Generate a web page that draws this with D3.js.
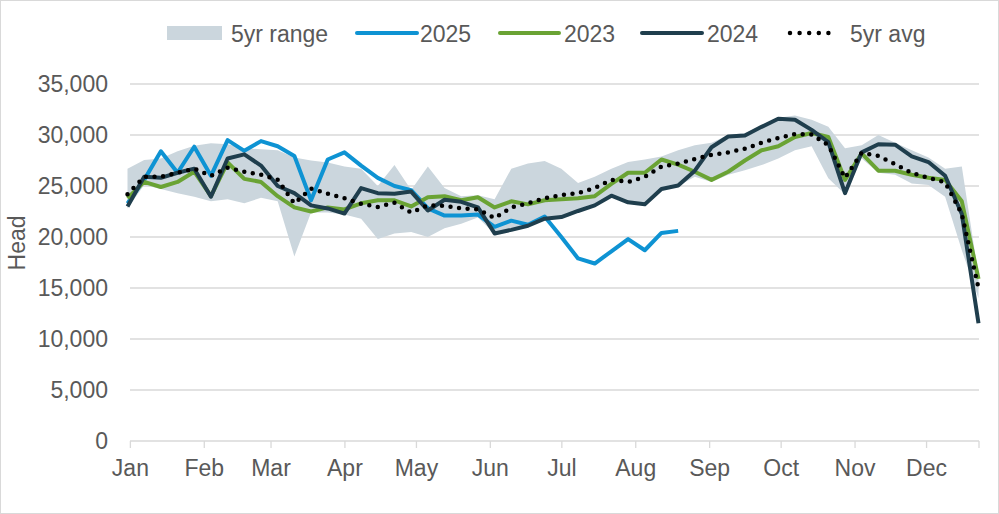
<!DOCTYPE html>
<html>
<head>
<meta charset="utf-8">
<script src="https://cdn.jsdelivr.net/npm/d3@7"></script>
<style>
  body { margin: 0; background: #fff; }
  svg { display: block; }
  text { font-family: "Liberation Sans", Arial, sans-serif; fill: #595959; }
</style>
</head>
<body>
<div class="fig"></div>
<script>
// weekly head counts, 52 weeks (week ending Saturdays)
var weeks = d3.range(52).map(function(k) { return new Date(2022, 11, 31 + 7 * k); });

var y2025 = [23300, 25600, 28400, 26300, 28850, 26000, 29500, 28450, 29400, 28900, 27950, 23600,
             27600, 28300, 27000, 25800, 25000, 24600, 22800, 22100, 22100, 22200, 21000, 21600,
             21200, 22000, 20000, 17900, 17400, 18600, 19800, 18700, 20400, 20600];

var y2023 = [23800, 25400, 24900, 25400, 26400, 24000, 27300, 25700, 25400, 24000, 22900, 22500,
             22900, 22700, 23300, 23600, 23600, 23000, 23900, 24000, 23600, 23900, 22900, 23500,
             23200, 23600, 23700, 23800, 24000, 25200, 26300, 26300, 27600, 27100, 26400, 25600,
             26400, 27500, 28500, 28900, 29800, 30200, 29800, 25600, 28200, 26500, 26500, 26100,
             25800, 25600, 23500, 15900];

var y2024 = [23000, 25900, 25800, 26300, 26700, 23950, 27700, 28100, 27000, 25000, 24300, 23100,
             22800, 22300, 24800, 24300, 24250, 24450, 22600, 23650, 23450, 22900, 20350, 20700,
             21100, 21800, 21950, 22550, 23100, 24050, 23400, 23200, 24700, 25050, 26500, 28800,
             29850, 29950, 30800, 31600, 31500, 30500, 29300, 24300, 28300, 29100, 29050, 27900,
             27350, 26000, 22250, 11550];

var avg5 = [24200, 25900, 25900, 26300, 26700, 26000, 26800, 26400, 26100, 25600, 23300, 24750,
            24250, 23800, 23250, 22950, 23350, 22400, 23100, 23050, 22800, 22700, 21850, 22900,
            23300, 23800, 24100, 24300, 24800, 25600, 25400, 25900, 26900, 27200, 27650, 28050,
            28300, 28650, 29250, 29700, 30100, 30050, 29000, 25800, 28250, 27950, 27150, 26280,
            25800, 25350, 22250, 15000];

var rangeMax = [26700, 27550, 27700, 28400, 28950, 29200, 29100, 28700, 28600, 28500, 27800, 27500,
                27300, 26900, 26700, 25000, 27050, 24600, 26900, 24800, 24000, 24100, 23700, 26700,
                27200, 27450, 26700, 25300, 25900, 26700, 27350, 27600, 27900, 28500, 29000, 29250,
                30000, 30200, 30900, 31700, 31900, 31500, 30800, 28700, 29000, 30000, 29250, 28500,
                27800, 26700, 26900, 16200];

var rangeMin = [22800, 25100, 24700, 24300, 23950, 23500, 23700, 23300, 23850, 23500, 18100, 22400,
                22400, 22200, 21800, 19800, 20350, 20500, 20000, 20850, 21300, 21900, 20300, 20600,
                21050, 21700, 21900, 22400, 23000, 23900, 23300, 23150, 24600, 25000, 25900, 25400,
                26100, 26550, 27050, 27700, 28500, 28900, 25750, 24200, 27700, 26300, 26100, 25250,
                25100, 23950, 18700, 14000];

var yTicks = [0, 5000, 10000, 15000, 20000, 25000, 30000, 35000];

var cRange = "#cbd6dd", c2025 = "#0e93d3", c2023 = "#6aa334", c2024 = "#1f3e4d";
var fs = "23px";

var W = 999, H = 514;
var svg = d3.select(".fig").append("svg")
    .attr("width", W)
    .attr("height", H);

svg.append("rect")
    .attr("x", 0.5).attr("y", 0.5)
    .attr("width", W - 1).attr("height", H - 1)
    .attr("fill", "#fff").attr("stroke", "#d9d9d9");

var x = d3.scaleTime()
    .domain([weeks[0], weeks[51]])
    .range([127.5, 978.5]);
var y = d3.scaleLinear()
    .domain([0, 35000])
    .range([441, 84]);

// gridlines
svg.append("g").selectAll("line")
    .data(yTicks.slice(1))
    .enter().append("line")
    .attr("x1", 130).attr("x2", 979)
    .attr("y1", function(d) { return y(d); })
    .attr("y2", function(d) { return y(d); })
    .attr("stroke", "#d9d9d9")
    .attr("stroke-width", 1.3);

// y axis labels
var ya = svg.append("g")
    .attr("transform", "translate(130,0)")
    .call(d3.axisLeft(y).tickValues(yTicks).tickSize(0).tickPadding(22).tickFormat(d3.format(",")));
ya.select(".domain").remove();
ya.selectAll("text").style("font-size", fs).attr("fill", "#595959");

// x axis
var months = d3.timeMonth.range(new Date(2023, 0, 1), new Date(2023, 11, 2));
var xa = svg.append("g")
    .attr("transform", "translate(0,441)")
    .call(d3.axisBottom(x).tickValues(months).tickSize(7).tickPadding(12).tickFormat(d3.timeFormat("%b")));
xa.select(".domain").attr("d", "M130,0H979").attr("stroke", "#d9d9d9").attr("stroke-width", 1.3);
xa.selectAll(".tick line").attr("stroke", "#d9d9d9").attr("stroke-width", 1.3);
xa.selectAll("text").style("font-size", fs).attr("fill", "#595959");
xa.append("line")
    .attr("x1", 979).attr("x2", 979).attr("y1", 0).attr("y2", 7)
    .attr("stroke", "#d9d9d9").attr("stroke-width", 1.3);

svg.append("text")
    .attr("transform", "translate(25,243) rotate(-90)")
    .attr("text-anchor", "middle")
    .style("font-size", fs)
    .text("Head");

// 5yr range band
var area = d3.area()
    .x(function(d, i) { return x(weeks[i]); })
    .y0(function(d, i) { return y(rangeMin[i]); })
    .y1(function(d, i) { return y(rangeMax[i]); });
svg.append("path")
    .datum(rangeMax)
    .attr("d", area)
    .attr("fill", cRange);

var line = d3.line()
    .x(function(d, i) { return x(weeks[i]); })
    .y(function(d) { return y(d); });

function drawLine(data, color) {
  svg.append("path")
      .datum(data)
      .attr("d", line)
      .attr("fill", "none")
      .attr("stroke", color)
      .attr("stroke-width", 4)
      .attr("stroke-linejoin", "round");
}
drawLine(y2025, c2025);
drawLine(y2023, c2023);
drawLine(y2024, c2024);

svg.append("path")
    .datum(avg5)
    .attr("d", line)
    .attr("fill", "none")
    .attr("stroke", "#000")
    .attr("stroke-width", 4.5)
    .attr("stroke-linecap", "round")
    .attr("stroke-dasharray", "0,8.6");

// legend
var leg = svg.append("g");
leg.append("rect").attr("x", 167).attr("y", 26).attr("width", 55).attr("height", 14).attr("fill", cRange);
var items = [
  {x1: 357, x2: 417, tx: 420, color: c2025, label: "2025"},
  {x1: 500, x2: 559, tx: 564, color: c2023, label: "2023"},
  {x1: 642, x2: 702, tx: 707, color: c2024, label: "2024"}
];
items.forEach(function(it) {
  leg.append("line")
      .attr("x1", it.x1).attr("x2", it.x2).attr("y1", 33).attr("y2", 33)
      .attr("stroke", it.color).attr("stroke-width", 4).attr("stroke-linecap", "round");
  leg.append("text").attr("x", it.tx).attr("y", 41.5).style("font-size", fs).text(it.label);
});
leg.append("line")
    .attr("x1", 790).attr("x2", 838).attr("y1", 33).attr("y2", 33)
    .attr("stroke", "#000").attr("stroke-width", 4.5)
    .attr("stroke-linecap", "round").attr("stroke-dasharray", "0,9.6");
leg.append("text").attr("x", 231).attr("y", 41.5).style("font-size", fs).text("5yr range");
leg.append("text").attr("x", 850).attr("y", 41.5).style("font-size", fs).text("5yr avg");
</script>
</body>
</html>
